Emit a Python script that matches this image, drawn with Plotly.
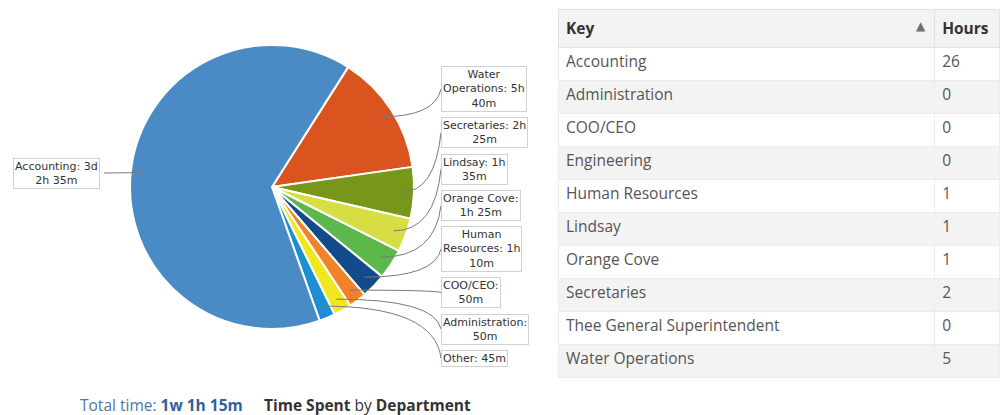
import math
import plotly.graph_objects as go

# ---------------- data ----------------
pie_labels = ["Water Operations", "Secretaries", "Lindsay", "Orange Cove",
              "Human Resources", "COO/CEO", "Administration", "Other", "Accounting"]
pie_minutes = [340, 145, 95, 85, 70, 50, 50, 45, 1595]
pie_texts = ["Water<br>Operations: 5h<br>40m", "Secretaries: 2h<br>25m", "Lindsay: 1h<br>35m",
             "Orange Cove:<br>1h 25m", "Human<br>Resources: 1h<br>10m", "COO/CEO:<br>50m",
             "Administration:<br>50m", "Other: 45m", "Accounting: 3d<br>2h 35m"]
pie_colors = ["#d9541e", "#77961a", "#d6de44", "#5cb84a", "#134a8a",
              "#f0822a", "#efe81f", "#1c8ed3", "#4a8bc6"]

table_keys = ["Accounting", "Administration", "COO/CEO", "Engineering", "Human Resources",
              "Lindsay", "Orange Cove", "Secretaries", "Thee General Superintendent",
              "Water Operations"]
table_hours = [26, 0, 0, 0, 1, 1, 1, 2, 0, 5]

# ---------------- layout constants ----------------
W, H = 1000, 415
CX, CY, R = 272, 187, 142
START = 32.4  # degrees clockwise from 12 o'clock


def px(x):
    return x / W


def py(y):
    return 1 - y / H


fig = go.Figure()

fig.add_trace(go.Pie(
    labels=pie_labels, values=pie_minutes, sort=False, direction="clockwise",
    rotation=START, textinfo="none", hoverinfo="label+value",
    marker=dict(colors=pie_colors, line=dict(color="white", width=2)),
    domain=dict(x=[px(CX - R), px(CX + R)], y=[py(CY + R), py(CY - R)]),
    showlegend=False,
))

# ---------------- table ----------------
n = len(table_keys)
row_fill = ["#ffffff" if i % 2 == 0 else "#f3f3f3" for i in range(n)]
fig.add_trace(go.Table(
    domain=dict(x=[0.558, 1.0], y=[py(385), py(9)]),
    columnwidth=[377, 65],
    header=dict(values=["<b>Key</b>", "<b>Hours</b>"], align="left",
                fill_color="#f3f3f3", line=dict(color="#e2e2e2", width=1),
                font=dict(family="Open Sans", size=15.5, color="#333333"), height=34),
    cells=dict(values=[table_keys, table_hours], align="left",
               fill_color=[row_fill, row_fill], line=dict(color="#ececec", width=1),
               font=dict(family="Open Sans", size=15.5, color="#555555"), height=33),
))

annotations = []
shapes = []

# sort arrow in header
annotations.append(dict(x=px(921), y=py(26), xref="paper", yref="paper", text="▲",
                        showarrow=False, font=dict(family="DejaVu Sans", size=12, color="#707070"),
                        xanchor="center", yanchor="middle"))

# ---------------- pie labels & leaders ----------------
total = sum(pie_minutes)
cum = 0
top = 66
BOX_X = 441
for lab, val, txt in zip(pie_labels, pie_minutes, pie_texts):
    mid = math.radians(START + (cum + val / 2) / total * 360)
    cum += val
    ax = CX + 0.91 * R * math.sin(mid)
    ay = CY - 0.91 * R * math.cos(mid)
    nlines = txt.count("<br>") + 1
    if lab == "Accounting":
        bx, by = 100, 173
        annotations.append(dict(x=px(bx), y=py(by), xref="paper", yref="paper", text=txt,
                                showarrow=False, xanchor="right", yanchor="middle", align="center",
                                font=dict(family="DejaVu Sans", size=11, color="#333333"),
                                bordercolor="#d0d0d0", borderwidth=1, borderpad=1, bgcolor="white"))
        path = f"M {px(bx + 4)},{py(by)} L {px(ax)},{py(ay)}"
    else:
        h = 14 * nlines + 4
        by = top + h / 2
        top += h + 4.5
        annotations.append(dict(x=px(BOX_X), y=py(by), xref="paper", yref="paper", text=txt,
                                showarrow=False, xanchor="left", yanchor="middle", align="center",
                                font=dict(family="DejaVu Sans", size=11, color="#333333"),
                                bordercolor="#d0d0d0", borderwidth=1, borderpad=1, bgcolor="white"))
        cxp, cyp = BOX_X - 6, ay
        path = f"M {px(ax)},{py(ay)} Q {px(cxp)},{py(cyp)} {px(BOX_X)},{py(by)}"
    shapes.append(dict(type="path", path=path, xref="paper", yref="paper",
                       line=dict(color="#7a7a7a", width=1), layer="above"))

# ---------------- footer ----------------
annotations.append(dict(x=px(78), y=py(405), xref="paper", yref="paper",
                        text="Total time: <b><span style='color:#2d629a'>1w 1h 15m</span></b>",
                        showarrow=False, xanchor="left", yanchor="middle",
                        font=dict(family="Open Sans", size=15.5, color="#4a77a6")))
annotations.append(dict(x=px(262), y=py(405), xref="paper", yref="paper",
                        text="<b>Time Spent</b> by <b>Department</b>",
                        showarrow=False, xanchor="left", yanchor="middle",
                        font=dict(family="Open Sans", size=15.5, color="#333333")))

fig.update_layout(width=W, height=H, margin=dict(l=0, r=0, t=0, b=0),
                  paper_bgcolor="white", plot_bgcolor="white",
                  annotations=annotations, shapes=shapes)

fig.write_html("out.html")
